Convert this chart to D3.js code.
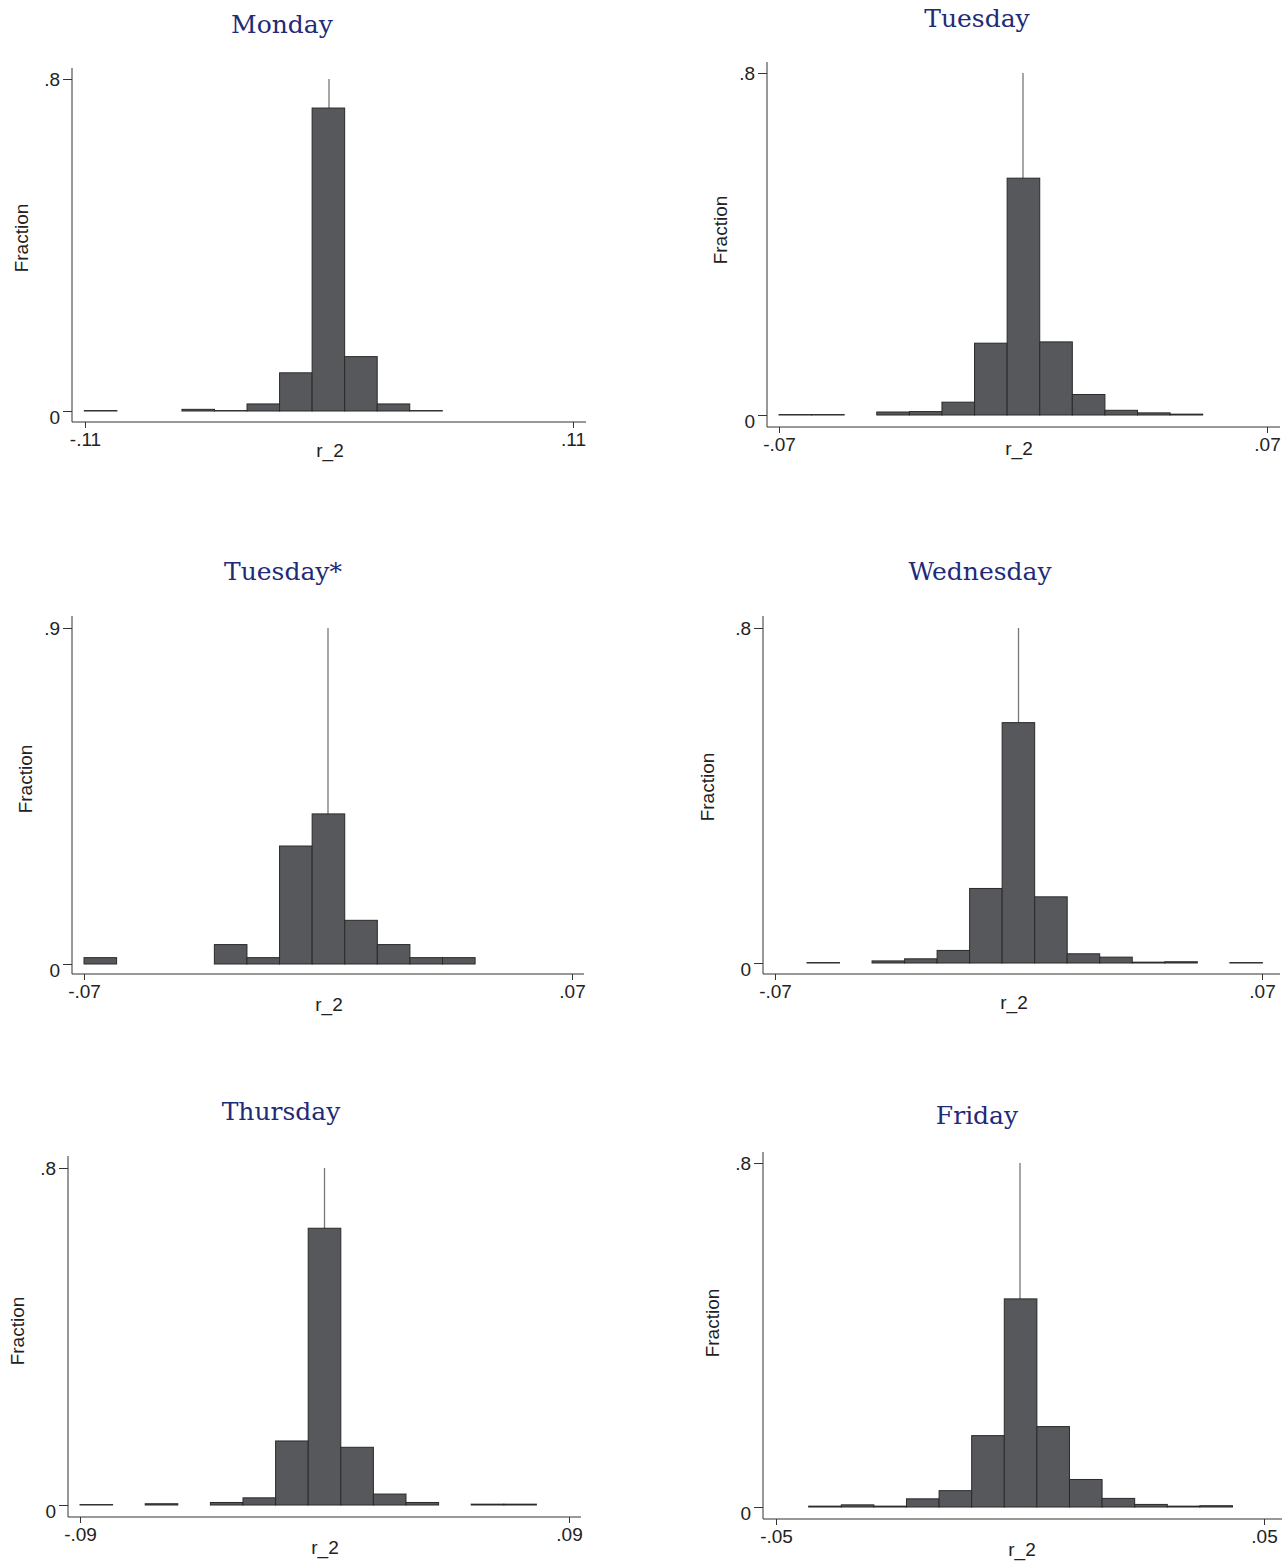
<!DOCTYPE html>
<html lang="en">
<head>
<meta charset="UTF-8">
<title>r_2 by weekday</title>
<script src="https://d3js.org/d3.v7.min.js"></script>
<style>
  body { margin: 0; background: #fff; }
  svg text { font-family: "Liberation Sans", Arial, sans-serif; fill: #222; }
  svg .title { font-family: "DejaVu Serif", serif; fill: #1f2a78; }
</style>
</head>
<body>
<svg width="1285" height="1562"></svg>
<script>
// panel titles
const days = ["Monday", "Tuesday", "Tuesday*", "Wednesday", "Thursday", "Friday"];

// x axis ticks and their labels
const xTicks = [[-0.11, 0.11], [-0.07, 0.07], [-0.07, 0.07], [-0.07, 0.07], [-0.09, 0.09], [-0.05, 0.05]];
const xTickLabels = [["-.11", ".11"], ["-.07", ".07"], ["-.07", ".07"], ["-.07", ".07"], ["-.09", ".09"], ["-.05", ".05"]];

// y axis ticks and their labels
const yTicks = [[0, 0.8], [0, 0.8], [0, 0.9], [0, 0.8], [0, 0.8], [0, 0.8]];
const yTickLabels = [["0", ".8"], ["0", ".8"], ["0", ".9"], ["0", ".8"], ["0", ".8"], ["0", ".8"]];

// lower edge of the first bin and the bin width
const binStart = [-0.1103, -0.0700, -0.0700, -0.0608, -0.0900, -0.0433];
const binWidth = [0.01467, 0.00935, 0.00935, 0.00935, 0.0120, 0.00668];

// fraction of observations in each bin (0 = empty bin)
const monday    = [0.001, 0, 0, 0.004, 0.001, 0.017, 0.092, 0.730, 0.131, 0.017, 0.001];
const tuesday   = [0.001, 0.001, 0, 0.007, 0.008, 0.030, 0.168, 0.554, 0.171, 0.048, 0.011, 0.005, 0.002];
const tuesdayB  = [0.017, 0, 0, 0, 0.052, 0.017, 0.316, 0.402, 0.117, 0.052, 0.017, 0.017];
const wednesday = [0.001, 0, 0.005, 0.010, 0.030, 0.178, 0.574, 0.158, 0.022, 0.014, 0.002, 0.003, 0, 0.001];
const thursday  = [0.001, 0, 0.003, 0, 0.006, 0.017, 0.152, 0.657, 0.137, 0.026, 0.006, 0, 0.002, 0.002];
const friday    = [0.002, 0.005, 0.002, 0.019, 0.038, 0.166, 0.484, 0.187, 0.064, 0.020, 0.006, 0.002, 0.003];
const fractions = [monday, tuesday, tuesdayB, wednesday, thursday, friday];

// where each panel sits on the page
const layout = [
  {left: 72,  right: 586,  top: 68,   bottom: 422,  x: [85, 573],   y: [411, 79],    title: [282, 33],    frac: [21, 238],   lab: [330, 457]},
  {left: 767, right: 1280, top: 62,   bottom: 427,  x: [779, 1267], y: [415, 73],    title: [977, 27],    frac: [720, 230],  lab: [1019, 455]},
  {left: 72,  right: 584,  top: 616,  bottom: 974,  x: [84, 572],   y: [964, 628],   title: [283, 580],   frac: [25, 779],   lab: [329, 1011]},
  {left: 763, right: 1280, top: 616,  bottom: 974,  x: [775, 1262], y: [963, 628],   title: [980, 580],   frac: [707, 787],  lab: [1014, 1009]},
  {left: 68,  right: 581,  top: 1156, bottom: 1517, x: [80, 569],   y: [1505, 1168], title: [281, 1120],  frac: [17, 1331],  lab: [325, 1554]},
  {left: 763, right: 1282, top: 1152, bottom: 1519, x: [776, 1264], y: [1507, 1163], title: [977, 1124],  frac: [712, 1323], lab: [1022, 1556]}
];

const svg = d3.select("svg");

days.forEach(function (day, p) {
  const L = layout[p];
  const g = svg.append("g").attr("class", "panel");

  const x = d3.scaleLinear().domain(xTicks[p]).range(L.x);
  const y = d3.scaleLinear().domain(yTicks[p]).range(L.y);

  const bins = fractions[p]
    .map((f, i) => ({x0: binStart[p] + i * binWidth[p], x1: binStart[p] + (i + 1) * binWidth[p], f: f}))
    .filter(d => d.f > 0);

  // reference line at zero, behind the bars
  g.append("line")
    .attr("x1", x(0)).attr("x2", x(0))
    .attr("y1", y(0)).attr("y2", y(yTicks[p][1]))
    .attr("stroke", "#777")
    .attr("stroke-width", 1.3);

  g.selectAll("rect")
    .data(bins)
    .enter()
    .append("rect")
    .attr("x", d => x(d.x0))
    .attr("y", d => y(d.f))
    .attr("width", d => x(d.x1) - x(d.x0))
    .attr("height", d => y(0) - y(d.f))
    .attr("fill", "#57585c")
    .attr("stroke", "#2a2a2a")
    .attr("stroke-width", 1);

  // axis lines
  g.append("line")
    .attr("x1", L.left).attr("x2", L.left)
    .attr("y1", L.top).attr("y2", L.bottom)
    .attr("stroke", "#333");
  g.append("line")
    .attr("x1", L.left).attr("x2", L.right)
    .attr("y1", L.bottom).attr("y2", L.bottom)
    .attr("stroke", "#333");

  // y axis
  const yAxis = g.append("g")
    .attr("transform", "translate(" + L.left + ",0)")
    .call(d3.axisLeft(y)
      .tickValues(yTicks[p])
      .tickSize(9)
      .tickSizeOuter(0)
      .tickPadding(3)
      .tickFormat((d, i) => yTickLabels[p][i]));
  yAxis.select(".domain").remove();
  yAxis.selectAll(".tick line").attr("stroke", "#333");
  yAxis.selectAll(".tick text")
    .attr("font-size", 19)
    .attr("font-family", null)
    .attr("dy", (d, i) => i === 0 ? "0.68em" : "0.36em");

  // x axis
  const xAxis = g.append("g")
    .attr("transform", "translate(0," + L.bottom + ")")
    .call(d3.axisBottom(x)
      .tickValues(xTicks[p])
      .tickSize(6)
      .tickSizeOuter(0)
      .tickPadding(5)
      .tickFormat((d, i) => xTickLabels[p][i]));
  xAxis.select(".domain").remove();
  xAxis.selectAll(".tick line").attr("stroke", "#333");
  xAxis.selectAll(".tick text")
    .attr("font-size", 19)
    .attr("font-family", null);

  // axis titles
  g.append("text")
    .attr("transform", "translate(" + L.frac[0] + "," + L.frac[1] + ") rotate(-90)")
    .attr("text-anchor", "middle")
    .attr("dominant-baseline", "central")
    .attr("font-size", 19)
    .text("Fraction");

  g.append("text")
    .attr("x", L.lab[0])
    .attr("y", L.lab[1])
    .attr("text-anchor", "middle")
    .attr("font-size", 19)
    .text("r_2");

  // panel title
  g.append("text")
    .attr("class", "title")
    .attr("x", L.title[0])
    .attr("y", L.title[1])
    .attr("text-anchor", "middle")
    .attr("font-size", 25)
    .text(day);
});
</script>
</body>
</html>
